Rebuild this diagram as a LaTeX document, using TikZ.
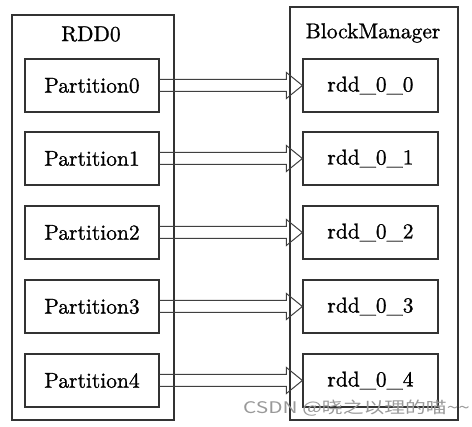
\documentclass[tikz,border=0pt]{standalone}
\usepackage{fontspec}
\newfontfamily\cjk{Noto Sans CJK SC}
\newfontfamily\boxfont{lmroman10-regular.otf}[FakeBold=1]
\usetikzlibrary{calc}

\begin{document}
\begin{tikzpicture}[x=1pt, y=-1pt,
    frame/.style={draw=black!80, line width=1.2pt, inner sep=0pt},
    part/.style={draw=black!80, line width=1.2pt, inner sep=0pt,
      minimum width=134pt, minimum height=53pt, font=\boxfont\fontsize{21.5}{25}\selectfont},
    title/.style={inner sep=0pt, font=\boxfont\fontsize{21.5}{25}\selectfont},
    dbl/.style={draw=black!75, line width=1pt,
      to path={($(\tikztostart.east)+(0,-6)$) -- ($(\tikztotarget.west)+(-16,-6)$)
        -- ($(\tikztotarget.west)+(-16,-13)$) -- (\tikztotarget.west)
        -- ($(\tikztotarget.west)+(-16,13)$) -- ($(\tikztotarget.west)+(-16,6)$)
        -- ($(\tikztostart.east)+(0,6)$)}}]
  \useasboundingbox (0,0) rectangle (472,427);

  % Containers
  \node[frame, minimum width=162pt, minimum height=405pt] (rdd) at (93,217.5) {};
  \node[frame, minimum width=168pt, minimum height=413pt] (bm) at (374,213.5) {};
  \node[title] (rddlabel) at (91,34) {RDD0};
  \node[title] (bmlabel) at (373,33) {BlockManager};

  % Partitions
  \node[part] (p0) at (92,85.5) {Partition0};
  \node[part] (p1) at (92,158.5) {Partition1};
  \node[part] (p2) at (92,232.5) {Partition2};
  \node[part] (p3) at (92,306.5) {Partition3};
  \node[part] (p4) at (92,380.5) {Partition4};

  % Blocks
  \node[part, minimum width=135pt] (r0) at (370.5,85.5) {rdd\_0\_0};
  \node[part, minimum width=135pt] (r1) at (370.5,158.5) {rdd\_0\_1};
  \node[part, minimum width=135pt] (r2) at (370.5,232.5) {rdd\_0\_2};
  \node[part, minimum width=135pt] (r3) at (370.5,306.5) {rdd\_0\_3};
  \node[part, minimum width=135pt] (r4) at (370.5,380.5) {rdd\_0\_4};

  % Hollow arrows
  \draw[dbl] (p0) to (r0);
  \draw[dbl] (p1) to (r1);
  \draw[dbl] (p2) to (r2);
  \draw[dbl] (p3) to (r3);
  \draw[dbl] (p4) to (r4);

  \node[text=black!40, anchor=west, inner sep=0pt] (mark) at (243,408)
    {\scalebox{1.3}[1]{\cjk\fontsize{16}{18}\selectfont CSDN @晓之以理的喵\textasciitilde\textasciitilde}};
\end{tikzpicture}
\end{document}
